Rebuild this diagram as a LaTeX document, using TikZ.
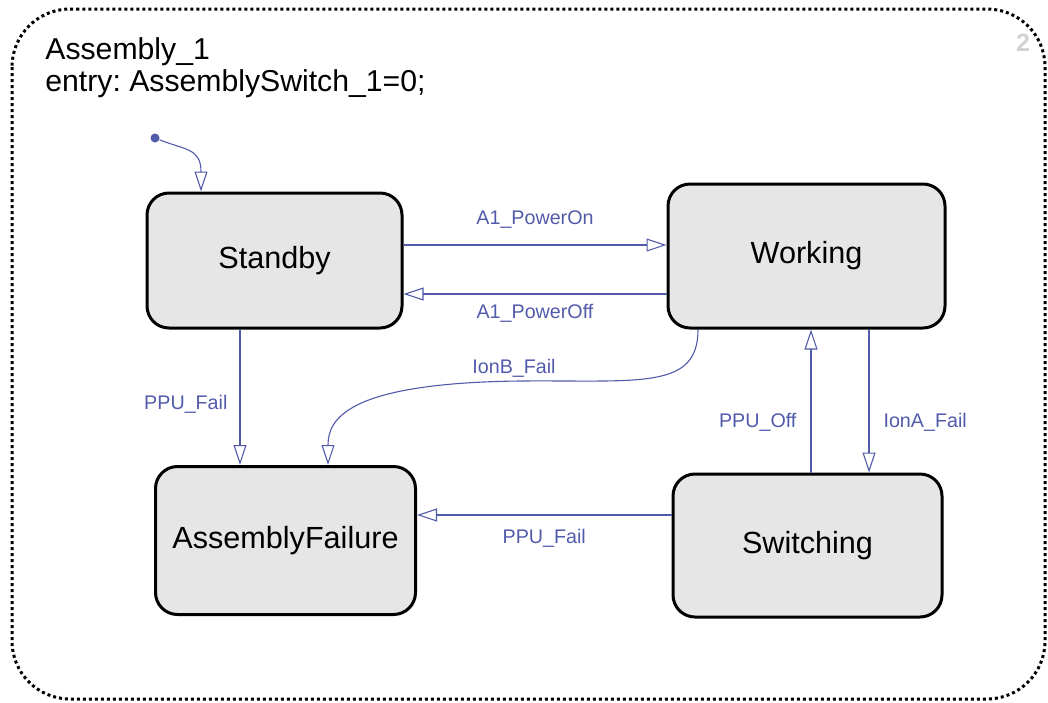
\documentclass[tikz,border=0pt]{standalone}
\usepackage{fontspec}
\setmainfont{Liberation Sans}
\usetikzlibrary{arrows.meta}

\definecolor{transblue}{RGB}{82,90,170}
\definecolor{stategray}{RGB}{230,230,230}

\begin{document}
\frenchspacing
\begin{tikzpicture}[
    x=0.5pt, y=-0.5pt,
    state/.style={draw=black, fill=stategray, line width=1.5pt, rounded corners=11pt,
                  font=\fontsize{15.3}{18}\selectfont},
    trans/.style={draw=transblue, line width=0.55pt,
                  -{Triangle[open, length=10pt, width=6.5pt, fill=white]}},
    tlabel/.style={text=transblue, font=\fontsize{9.85}{12}\selectfont, inner sep=1pt},
    chart/.style={draw=black, line width=1.5pt, dash pattern=on 1.5pt off 1.5pt,
                  rounded corners=29pt},
    chartext/.style={anchor=base west, inner sep=0pt, font=\fontsize{15.1}{18}\selectfont}
]
\useasboundingbox (0,0) rectangle (1048,702);

% Chart frame
\draw[chart] (12,9) rectangle (1045,699);
\node[chartext] (title) at (45,59) {Assembly\_1};
\node[chartext] (entry) at (45,91) {entry: AssemblySwitch\_1=0;};
\node[text=black!18, font=\bfseries\fontsize{12.5}{15}\selectfont] (num) at (1023,43) {2};

% States
\node[state, minimum width=127.5pt, minimum height=67.5pt] (standby) at (274.5,260.5) {Standby};
\node[state, minimum width=138.5pt, minimum height=72pt] (working) at (806.5,256) {Working};
\node[state, minimum width=130pt, minimum height=74pt] (failure) at (285.5,540.5) {AssemblyFailure};
\node[state, minimum width=134.5pt, minimum height=71.5pt] (switching) at (807.5,545.5) {Switching};

% Default transition
\node[circle, fill=transblue, inner sep=0pt, minimum size=4.5pt] (init) at (155,138) {};
\draw[trans] (init) .. controls (185,150) and (201,148) .. (201,172) -- (standby.north -| 201,0);

% Transitions
\draw[trans] (standby.east |- 0,245) -- node[tlabel, above=7pt] {A1\_PowerOn} (working.west |- 0,245);
\draw[trans] (working.west |- 0,294) -- node[tlabel, below=4pt] {A1\_PowerOff} (standby.east |- 0,294);
\draw[trans] (standby.south -| 240,0) -- node[tlabel, left=5pt, pos=0.55] {PPU\_Fail} (failure.north -| 240,0);
\draw[trans] (working.south -| 698,0) .. controls (698,390) and (640,380) .. (520,381)
    .. controls (345,383) and (328,420) .. (failure.north -| 328,0);
\node[tlabel] (ionb) at (514,368) {IonB\_Fail};
\draw[trans] (switching.north -| 811,0) -- node[tlabel, left=6pt, pos=0.35] {PPU\_Off} (working.south -| 811,0);
\draw[trans] (working.south -| 869,0) -- node[tlabel, right=6pt, pos=0.65] {IonA\_Fail} (switching.north -| 869,0);
\draw[trans] (switching.west |- 0,515) -- node[tlabel, below=6pt] {PPU\_Fail} (failure.east |- 0,515);

\end{tikzpicture}
\end{document}
